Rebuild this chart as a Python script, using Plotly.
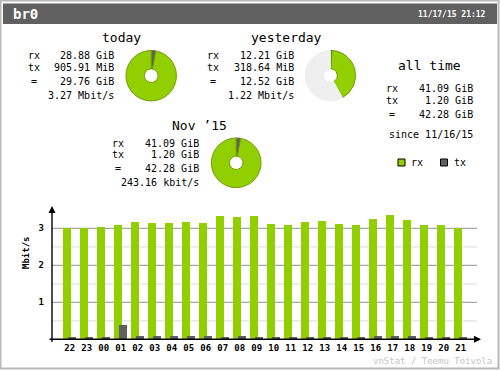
import plotly.graph_objects as go

# ---------------- data ----------------
hours = ["22", "23", "00", "01", "02", "03", "04", "05", "06", "07", "08", "09",
         "10", "11", "12", "13", "14", "15", "16", "17", "18", "19", "20", "21"]
rx_mbit = [3.01, 3.00, 3.04, 3.09, 3.17, 3.14, 3.14, 3.17, 3.14, 3.33, 3.31, 3.33,
           3.12, 3.09, 3.17, 3.20, 3.12, 3.09, 3.25, 3.36, 3.23, 3.09, 3.09, 3.01]
tx_mbit = [0.06, 0.06, 0.06, 0.39, 0.09, 0.09, 0.09, 0.09, 0.09, 0.06, 0.09, 0.06,
           0.06, 0.06, 0.06, 0.06, 0.06, 0.06, 0.09, 0.09, 0.09, 0.06, 0.06, 0.06]

# today / yesterday / month totals in GiB
today_rx_gib, today_tx_gib = 28.88, 905.91 / 1024
yday_rx_gib, yday_tx_gib = 12.21, 318.64 / 1024
month_rx_gib, month_tx_gib = 41.09, 1.20

today_text = ["28.88 GiB", "905.91 MiB", "29.76 GiB", "3.27 Mbit/s"]
yday_text = ["12.21 GiB", "318.64 MiB", "12.52 GiB", "1.22 Mbit/s"]
month_text = ["41.09 GiB", "1.20 GiB", "42.28 GiB", "243.16 kbit/s"]
alltime_text = ["41.09 GiB", "1.20 GiB", "42.28 GiB"]
since_text = "since 11/16/15"
iface = "br0"
stamp = "11/17/15 21:12"

# ---------------- style ----------------
W, H = 500, 370
RX = "#92cf00"
RX_EDGE = "#6f9e00"
TX = "#606060"
HEADER = "#606060"
REST = "#efefef"
MONO = "DejaVu Sans Mono"


def px(x):
    return x / W


def py(y):
    return 1 - y / H


fig = go.Figure()

# ---------------- bar chart ----------------
n = len(hours)
idx = list(range(n))
bw = 0.47
fig.add_trace(go.Bar(x=idx, y=rx_mbit, width=bw, offset=-bw / 2, marker_color=RX,
                     marker_line_width=0, showlegend=False, hoverinfo="skip"))
fig.add_trace(go.Bar(x=idx, y=tx_mbit, width=bw, offset=-bw / 2 + 0.276, marker_color=TX,
                     marker_line_width=0, showlegend=False, hoverinfo="skip"))

step = 17.0
x0px = 67.3
def xi(p):
    return (p - x0px) / step

ypx0 = 339.3
unit = 37.0
def yv(p):
    return (ypx0 - p) / unit

xdom = [px(48), px(482)]
ydom = [py(ypx0), py(205)]

shapes = []
# grid lines
for k in range(1, 7):
    v = k * 0.5
    shapes.append(dict(type="line", xref="x", yref="y", x0=xi(52), x1=xi(477), y0=v, y1=v,
                       line=dict(color="#a8a8a8" if k % 2 == 0 else "#e2e2e2", width=1.2),
                       layer="below"))
# outer frame and header bar
shapes.append(dict(type="rect", xref="paper", yref="paper", x0=px(0.5), x1=px(498.5),
                   y0=py(368.5), y1=py(0.5), line=dict(color="#b8b8b8", width=2)))
shapes.append(dict(type="rect", xref="paper", yref="paper", x0=px(3), x1=px(497),
                   y0=py(24), y1=py(3.5), line=dict(width=0), fillcolor=HEADER))
# legend squares
shapes.append(dict(type="rect", xref="paper", yref="paper", x0=px(398), x1=px(405),
                   y0=py(166), y1=py(159), line=dict(color="black", width=1), fillcolor=RX))
shapes.append(dict(type="rect", xref="paper", yref="paper", x0=px(440.5), x1=px(447.5),
                   y0=py(166), y1=py(159), line=dict(color="black", width=1), fillcolor=TX))

annotations = []
# axes with arrows
annotations.append(dict(x=xi(52), y=yv(206), ax=xi(52), ay=yv(343.5), xref="x", yref="y",
                        axref="x", ayref="y", text="", showarrow=True, arrowhead=2,
                        arrowsize=1, arrowwidth=1.4, arrowcolor="black"))
annotations.append(dict(x=xi(481), y=0, ax=xi(48), ay=0, xref="x", yref="y",
                        axref="x", ayref="y", text="", showarrow=True, arrowhead=2,
                        arrowsize=1, arrowwidth=1.4, arrowcolor="black"))
# y title
annotations.append(dict(x=px(19), y=py(271.5), xref="paper", yref="paper", text="<b>Mbit/s</b>",
                        textangle=-90, showarrow=False, font=dict(family=MONO, size=9, color="black")))


def txt(x, y, s, anchor="left", size=10, color="black", bold=False):
    annotations.append(dict(x=px(x), y=py(y), xref="paper", yref="paper",
                            text=("<b>%s</b>" % s) if bold else s, showarrow=False,
                            xanchor=anchor, yanchor="middle",
                            font=dict(family=MONO, size=size, color=color)))


# header
txt(11, 14, iface, size=14, color="white", bold=True)
txt(487.5, 14.5, stamp, anchor="right", size=8, color="white", bold=True)

# blocks
def block(lx, rxv, rows, values):
    labels = ["rx", "tx", "="]
    for i, lab in enumerate(labels):
        txt(lx + (3 if lab == "=" else 0), rows[i], lab)
    for i, v in enumerate(values):
        txt(rxv, rows[i], v, anchor="right")


txt(121.5, 37.5, "today", anchor="center", size=13)
block(25.5, 115.5, [55, 67, 81, 95.5], today_text)
txt(286, 37.5, "yesterday", anchor="center", size=13)
block(205, 295.5, [55, 67, 81, 95.5], yday_text)
txt(429, 65, "all time", anchor="center", size=13)
block(384, 474.5, [88.5, 100.5, 114.5], alltime_text)
txt(474.5, 134.5, since_text, anchor="right")
txt(199, 125.5, "Nov \u201915", anchor="center", size=13)
block(110, 200.5, [143.5, 155, 168.5, 182.5], month_text)

# legend text
txt(409, 162.5, "rx")
txt(451.5, 162.5, "tx")

# footer
txt(494, 361, "vnStat / Teemu Toivola", anchor="right", size=9, color="#c4c4c4")

# ---------------- pies ----------------
def pie(cx, cy, r, vals, colors, edges):
    fig.add_trace(go.Pie(values=vals, marker=dict(colors=colors, line=dict(color=edges, width=1)),
                         hole=0.27, sort=False, direction="clockwise", rotation=0,
                         textinfo="none", hoverinfo="skip", showlegend=False,
                         domain=dict(x=[px(cx - r), px(cx + r)], y=[py(cy + r), py(cy - r)])))


today_total = today_rx_gib + today_tx_gib
yday_total = yday_rx_gib + yday_tx_gib
pie(151.2, 75.7, 25.2, [today_tx_gib, today_rx_gib], [TX, RX], [TX, RX_EDGE])
pie(330.4, 75.6, 25.2, [yday_tx_gib, yday_rx_gib, max(today_total, yday_total) - yday_total],
    [TX, RX, REST], [TX, RX_EDGE, REST])
pie(236.2, 162.8, 24.8, [month_tx_gib, month_rx_gib], [TX, RX], [TX, RX_EDGE])

fig.update_layout(
    width=W, height=H, margin=dict(l=0, r=0, t=0, b=0),
    paper_bgcolor="white", plot_bgcolor="rgba(0,0,0,0)",
    barmode="overlay", bargap=0,
    shapes=shapes, annotations=annotations,
    xaxis=dict(domain=xdom, range=[xi(48), xi(482)], showgrid=False, zeroline=False,
               showline=False, tickmode="array", tickvals=[i + 0.14 for i in idx],
               ticktext=["<b>%s</b>" % h for h in hours], ticks="", ticklabelstandoff=2,
               tickfont=dict(family=MONO, size=9, color="black"), fixedrange=True),
    yaxis=dict(domain=ydom, range=[0, yv(205)], showgrid=False, zeroline=False,
               showline=False, tickmode="array", tickvals=[1, 2, 3],
               ticktext=["<b>1</b>", "<b>2</b>", "<b>3</b>"], ticks="", ticklabelstandoff=3,
               tickfont=dict(family=MONO, size=9, color="black"), fixedrange=True),
)

fig.write_html("out.html", config={"displayModeBar": False})

# remove the default page margin so the figure sits at the window's top-left corner
with open("out.html", encoding="utf-8") as f:
    page = f.read()
page = page.replace("<head>", "<head><style>html,body{margin:0;padding:0;overflow:hidden;}</style>", 1)
with open("out.html", "w", encoding="utf-8") as f:
    f.write(page)
